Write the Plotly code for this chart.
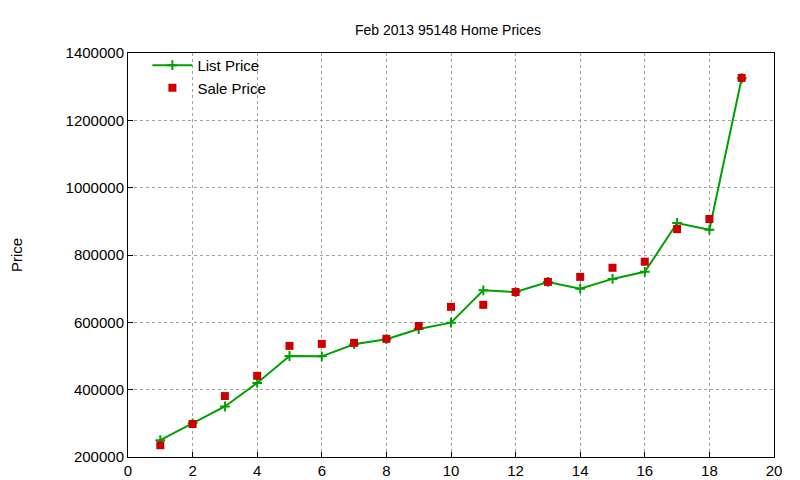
import plotly.graph_objects as go

# Feb 2013 95148 home prices
homes = list(range(1, 20))
list_price = [250000, 300000, 350000, 420000, 500000, 499000, 535000, 550000, 580000, 599000,
              695000, 690000, 720000, 700000, 729000, 750000, 895000, 875000, 1325000]
sale_price = [235000, 298000, 381000, 441000, 530000, 536000, 539000, 551000, 589000, 646000,
              652000, 690000, 720000, 735000, 762000, 780000, 877000, 907000, 1326000]

fig = go.Figure()
fig.add_trace(go.Scatter(x=homes, y=list_price, name='List Price', mode='lines+markers',
                         line=dict(color='#00a000', width=2),
                         marker=dict(symbol='cross-thin', size=7, line=dict(color='#00a000', width=2))))
fig.add_trace(go.Scatter(x=homes, y=sale_price, name='Sale Price', mode='markers',
                         marker=dict(symbol='square', size=8, color='#cc0000')))

grid = dict(showgrid=True, gridcolor='#a0a0a0', griddash='dot', gridwidth=1,
            showline=True, mirror=True, linecolor='black', linewidth=1,
            ticks='inside', tickcolor='black', zeroline=False, automargin=False,
            tickfont=dict(size=15))
fig.update_xaxes(range=[0, 20], dtick=2, **grid)
fig.update_yaxes(range=[200000, 1400000], dtick=200000, tickformat='d',
                 title=dict(text='Price', standoff=52, font=dict(size=15)), **grid)
fig.update_layout(
    width=800, height=480, template='simple_white',
    plot_bgcolor='white', paper_bgcolor='white',
    font=dict(family='Liberation Sans, Arial', size=15, color='black'),
    title=dict(text='Feb 2013 95148 Home Prices', x=0.55, y=0.965, font=dict(size=14)),
    margin=dict(l=120, r=34, t=45, b=31, autoexpand=False),
    legend=dict(x=0.03, y=1.01, bgcolor='rgba(0,0,0,0)', font=dict(size=15),
                tracegroupgap=0, itemwidth=40),
)
fig.write_html("out.html")
